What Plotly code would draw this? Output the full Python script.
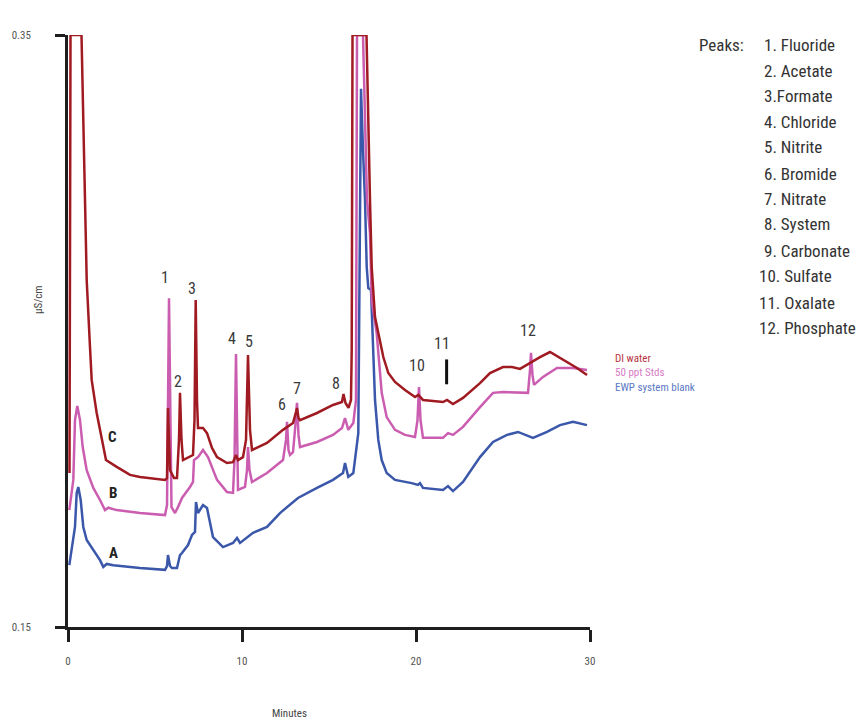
import plotly.graph_objects as go

# ---- Chromatogram data (time in minutes, conductivity in µS/cm) ----
di_water_t = [0.086, 0.144, 0.776, 1.075, 1.264, 1.362, 1.649, 1.937, 2.184, 2.799,
              3.563, 4.138, 5.575, 5.690, 5.747, 5.862, 6.092, 6.264, 6.379, 6.437,
              6.523, 6.609, 7.011, 7.184, 7.270, 7.339, 7.414, 7.471, 7.759, 7.989,
              8.276, 8.563, 9.138, 9.483, 9.655, 9.770, 10.057, 10.230, 10.345, 10.460,
              10.575, 11.437, 12.356, 12.931, 13.103, 13.161, 13.247, 13.333, 14.310, 15.230,
              15.747, 15.833, 15.948, 16.121, 16.264, 16.305, 16.351, 17.155, 17.356, 17.454,
              17.644, 17.833, 18.121, 18.408, 18.793, 19.368, 19.943, 20.132, 20.402, 21.552,
              21.782, 22.126, 22.701, 23.678, 24.253, 25.000, 25.517, 25.977, 26.552, 27.126,
              27.701, 28.448, 29.253, 29.828]
di_water_v = [0.2020, 0.3500, 0.3500, 0.2672, 0.2446, 0.2334, 0.2223, 0.2142, 0.2064, 0.2041,
              0.2014, 0.2007, 0.1997, 0.2003, 0.2240, 0.2030, 0.2003, 0.2003, 0.2132, 0.2291,
              0.2132, 0.2064, 0.2074, 0.2081, 0.2199, 0.2605, 0.2267, 0.2172, 0.2172, 0.2155,
              0.2105, 0.2074, 0.2054, 0.2057, 0.2081, 0.2064, 0.2074, 0.2132, 0.2419, 0.2166,
              0.2098, 0.2122, 0.2166, 0.2189, 0.2226, 0.2240, 0.2206, 0.2199, 0.2223, 0.2250,
              0.2260, 0.2287, 0.2257, 0.2240, 0.2267, 0.2436, 0.3500, 0.3500, 0.2943, 0.2716,
              0.2547, 0.2493, 0.2412, 0.2358, 0.2328, 0.2301, 0.2277, 0.2284, 0.2267, 0.2260,
              0.2267, 0.2253, 0.2274, 0.2324, 0.2358, 0.2378, 0.2378, 0.2372, 0.2392, 0.2412,
              0.2429, 0.2402, 0.2375, 0.2351]

stds_t = [0.075, 0.305, 0.402, 0.534, 0.690, 0.845, 1.075, 1.454, 1.839, 2.126,
          2.316, 2.799, 4.138, 5.575, 5.690, 5.805, 5.948, 6.149, 6.322, 6.552,
          7.011, 7.184, 7.241, 7.471, 7.759, 8.046, 8.563, 9.138, 9.483, 9.569,
          9.655, 9.770, 10.172, 10.287, 10.345, 10.431, 10.575, 11.437, 12.356, 12.529,
          12.586, 12.672, 12.759, 12.931, 13.046, 13.161, 13.247, 13.333, 14.310, 15.230,
          15.747, 15.920, 16.109, 16.397, 16.552, 16.609, 16.954, 17.184, 17.356, 17.454,
          17.741, 17.816, 18.029, 18.316, 18.793, 19.368, 19.943, 20.086, 20.172, 20.259,
          20.402, 21.552, 21.839, 22.126, 22.701, 23.678, 24.425, 25.000, 26.437, 26.552,
          26.609, 26.695, 26.782, 27.299, 28.103, 29.023, 29.828]
stds_v = [0.1895, 0.1997, 0.2199, 0.2247, 0.2199, 0.2108, 0.2030, 0.1970, 0.1929, 0.1895,
          0.1903, 0.1895, 0.1885, 0.1878, 0.1912, 0.2611, 0.1905, 0.1885, 0.1905, 0.1936,
          0.1973, 0.1990, 0.2064, 0.2074, 0.2098, 0.2074, 0.1997, 0.1956, 0.1953, 0.2064,
          0.2422, 0.1963, 0.1973, 0.2030, 0.2108, 0.2030, 0.1990, 0.2020, 0.2064, 0.2132,
          0.2193, 0.2098, 0.2081, 0.2091, 0.2166, 0.2257, 0.2149, 0.2108, 0.2125, 0.2149,
          0.2172, 0.2206, 0.2166, 0.2189, 0.2267, 0.3500, 0.3500, 0.2943, 0.2831, 0.2605,
          0.2493, 0.2436, 0.2291, 0.2209, 0.2166, 0.2149, 0.2142, 0.2199, 0.2311, 0.2199,
          0.2139, 0.2139, 0.2155, 0.2149, 0.2176, 0.2243, 0.2291, 0.2294, 0.2291, 0.2368,
          0.2426, 0.2351, 0.2318, 0.2345, 0.2375, 0.2375, 0.2368]

blank_t = [0.075, 0.270, 0.402, 0.500, 0.592, 0.730, 0.879, 1.075, 1.454, 1.839,
           2.029, 2.224, 2.603, 4.138, 5.575, 5.690, 5.747, 5.862, 5.977, 6.264,
           6.437, 6.552, 6.897, 7.126, 7.299, 7.356, 7.471, 7.759, 7.989, 8.333,
           8.908, 9.483, 9.713, 9.885, 10.632, 11.437, 12.184, 12.931, 13.218, 14.310,
           15.230, 15.805, 15.920, 16.109, 16.397, 16.684, 16.753, 16.839, 16.954, 17.069,
           17.167, 17.259, 17.414, 17.489, 17.644, 17.833, 18.029, 18.316, 18.793, 19.753,
           20.115, 20.230, 20.402, 21.552, 21.839, 22.126, 22.701, 23.678, 24.425, 25.230,
           25.862, 26.724, 27.529, 28.276, 29.023, 29.828]
blank_v = [0.1709, 0.1794, 0.1838, 0.1953, 0.1973, 0.1929, 0.1838, 0.1794, 0.1760, 0.1726,
           0.1703, 0.1713, 0.1709, 0.1699, 0.1693, 0.1706, 0.1743, 0.1706, 0.1699, 0.1699,
           0.1743, 0.1750, 0.1777, 0.1811, 0.1821, 0.1922, 0.1885, 0.1912, 0.1902, 0.1804,
           0.1770, 0.1784, 0.1801, 0.1784, 0.1818, 0.1838, 0.1885, 0.1922, 0.1936, 0.1970,
           0.1997, 0.2020, 0.2054, 0.2007, 0.2020, 0.2155, 0.2605, 0.3318, 0.3111, 0.2943,
           0.2716, 0.2645, 0.2639, 0.2493, 0.2267, 0.2132, 0.2064, 0.2020, 0.1997, 0.1986,
           0.1980, 0.1986, 0.1970, 0.1963, 0.1976, 0.1959, 0.1990, 0.2074, 0.2125, 0.2149,
           0.2159, 0.2139, 0.2159, 0.2182, 0.2193, 0.2182]

series_names = ["DI water", "50 ppt Stds", "EWP system blank"]
series_colors = ["#a01a22", "#cb5db1", "#3a57aa"]
legend_colors = ["#b8343e", "#d57cc5", "#5b78c6"]
trace_letters = ["C", "B", "A"]

# Peak labels: number, label position (minutes, µS/cm)
peak_numbers = ["1", "2", "3", "4", "5", "6", "7", "8", "9", "10", "11", "12"]
peak_label_t = [5.575, 6.322, 7.126, 9.425, 10.402, 12.299, 13.161, 15.402, 16.667, 20.057, 21.494, 26.437]
peak_label_v = [0.2682, 0.2331, 0.2645, 0.2473, 0.2463, 0.2253, 0.2307, 0.2324, 0.3554, 0.2382, 0.2459, 0.2503]
peak_names = ["1. Fluoride", "2. Acetate", "3.Formate", "4. Chloride", "5. Nitrite",
              "6. Bromide", "7. Nitrate", "8. System", "9. Carbonate", "10. Sulfate",
              "11. Oxalate", "12. Phosphate"]

oxalate_marker_t = 21.76
oxalate_marker_v = [0.2320, 0.2404]

x_ticks = [0, 10, 20, 30]
y_ticks = [0.15, 0.35]
y_tick_text = ["0.15", "0.35"]

FONT = "Liberation Sans Narrow, Arial Narrow, Roboto Condensed, Liberation Sans, sans-serif"
W, H = 861, 719
ML, MR, MT, MB = 68, 271, 35, 92


def paper(px, py):
    """Convert page pixel position to paper coordinates."""
    return (px - ML) / (W - ML - MR), (H - MB - py) / (H - MT - MB)


fig = go.Figure()

# Draw blank first, then standards, then DI water on top
for t, v, name, color in [(blank_t, blank_v, series_names[2], series_colors[2]),
                          (stds_t, stds_v, series_names[1], series_colors[1]),
                          (di_water_t, di_water_v, series_names[0], series_colors[0])]:
    fig.add_trace(go.Scatter(x=t, y=v, mode="lines", name=name,
                             line=dict(color=color, width=2.5),
                             cliponaxis=False, showlegend=False))

annotations = []

# Peak numbers
for num, t, v in zip(peak_numbers, peak_label_t, peak_label_v):
    annotations.append(dict(x=t, y=v, xref="x", yref="y", text=num, showarrow=False,
                            font=dict(family=FONT, size=16, color="#3a3a3a"),
                            xanchor="center", yanchor="middle"))

# Trace letters
letter_pos = [(2.569, 0.2143), (2.569, 0.1954), (2.603, 0.1751)]
for letter, (t, v) in zip(trace_letters, letter_pos):
    annotations.append(dict(x=t, y=v, xref="x", yref="y", text=f"<b>{letter}</b>",
                            showarrow=False, font=dict(family=FONT, size=15, color="#222222"),
                            xanchor="center", yanchor="middle"))

# Peak list
px_, py_ = paper(696.7, 45)
annotations.append(dict(x=px_, y=py_, xref="paper", yref="paper", text="Peaks:",
                        showarrow=False, xanchor="left", yanchor="middle",
                        font=dict(family=FONT, size=17, color="#333333")))
list_y = [45, 70.5, 96, 121.7, 147.3, 174, 199, 224, 250.7, 276, 302.7, 328]
for i, (name, y) in enumerate(zip(peak_names, list_y)):
    x0 = 762 if i < 9 else 757
    px_, py_ = paper(x0, y)
    annotations.append(dict(x=px_, y=py_, xref="paper", yref="paper", text=name,
                            showarrow=False, xanchor="left", yanchor="middle",
                            font=dict(family=FONT, size=17, color="#333333")))

# Series key
for name, color, y in zip(series_names, legend_colors, [358.3, 372.3, 387.3]):
    px_, py_ = paper(613.3, y)
    annotations.append(dict(x=px_, y=py_, xref="paper", yref="paper", text=name,
                            showarrow=False, xanchor="left", yanchor="middle",
                            font=dict(family=FONT, size=11, color=color)))

# Axis titles
px_, py_ = paper(289, 713)
annotations.append(dict(x=px_, y=py_, xref="paper", yref="paper", text="Minutes",
                        showarrow=False, xanchor="center", yanchor="middle",
                        font=dict(family=FONT, size=11, color="#444444")))
px_, py_ = paper(38, 300)
annotations.append(dict(x=px_, y=py_, xref="paper", yref="paper", text="µS/cm",
                        showarrow=False, xanchor="center", yanchor="middle", textangle=-90,
                        font=dict(family=FONT, size=11, color="#444444")))

fig.add_shape(type="line", xref="x", yref="y",
              x0=oxalate_marker_t, x1=oxalate_marker_t,
              y0=oxalate_marker_v[0], y1=oxalate_marker_v[1],
              line=dict(color="#111111", width=3))

fig.update_layout(
    width=W, height=H,
    margin=dict(l=ML, r=MR, t=MT, b=MB, pad=0),
    paper_bgcolor="white", plot_bgcolor="white",
    annotations=annotations,
    xaxis=dict(range=[0, 30], tickvals=x_ticks, ticks="outside", ticklen=12, tickwidth=2.5,
               tickcolor="#1e1e1e", showline=True, linewidth=2.8, linecolor="#1e1e1e",
               showgrid=False, zeroline=False, ticklabelstandoff=10,
               tickfont=dict(family=FONT, size=11, color="#555555")),
    yaxis=dict(range=[0.15, 0.35], tickvals=y_ticks, ticktext=y_tick_text, ticks="outside",
               ticklen=10, tickwidth=2.5, tickcolor="#1e1e1e", showline=True, linewidth=2.8,
               linecolor="#1e1e1e", showgrid=False, zeroline=False, ticklabelstandoff=22,
               tickfont=dict(family=FONT, size=11, color="#555555")),
)

fig.write_html("out.html")
